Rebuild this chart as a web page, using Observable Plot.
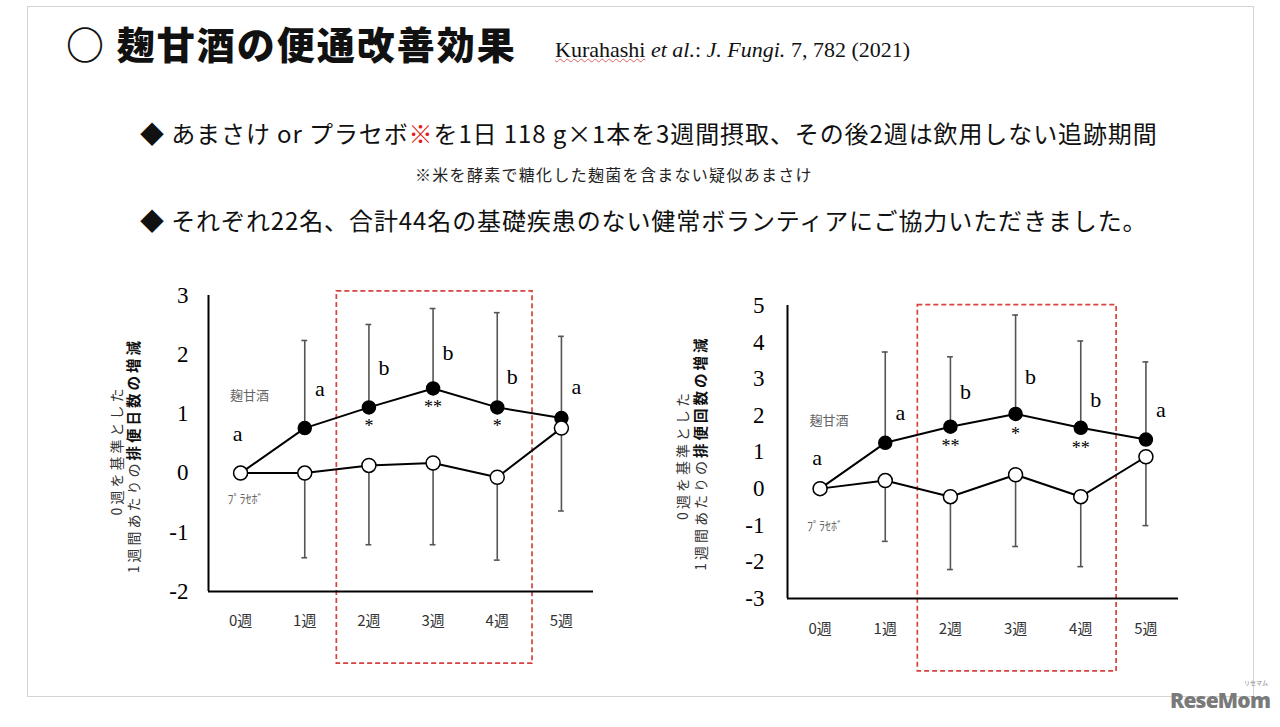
<!DOCTYPE html>
<html><head><meta charset="utf-8">
<script src="https://cdn.jsdelivr.net/npm/d3@7"></script>
<script src="https://cdn.jsdelivr.net/npm/@observablehq/plot@0.6"></script>
<style>
html,body{margin:0;padding:0;background:#fff;}
#page{position:relative;width:1280px;height:727px;overflow:hidden;font-family:"Noto Sans CJK JP","Noto Sans",sans-serif;color:#111;}
.frame{position:absolute;left:27px;top:6px;width:1227px;height:691px;border:1.5px solid #d4d4d4;box-sizing:border-box;}
.abs{position:absolute;white-space:nowrap;line-height:1;}
.chart{position:absolute;}
</style></head>
<body>
<div id="page">
  <div class="frame"></div>
  <div class="abs" id="title" style="left:66px;top:24px;font-size:38px;font-weight:900;letter-spacing:2px;">○ 麹甘酒の便通改善効果</div>
  <div class="abs" id="cite" style="left:555px;top:39px;font-family:'Liberation Serif',serif;font-size:22px;"><span style="text-decoration:underline wavy #e06060;text-decoration-thickness:1px;">Kurahashi</span> <i>et al.</i>: <i>J. Fungi.</i> 7, 782 (2021)</div>
  <div class="abs" id="b1" style="left:140px;top:121px;font-size:24px;letter-spacing:0.9px;">◆ あまさけ or プラセボ<span style="color:#e02020">※</span>を1日 118 g×1本を3週間摂取、その後2週は飲用しない追跡期間</div>
  <div class="abs" id="note" style="left:415px;top:166px;font-size:16px;letter-spacing:1.3px;color:#222;">※米を酵素で糖化した麹菌を含まない疑似あまさけ</div>
  <div class="abs" id="b2" style="left:140px;top:208px;font-size:24px;letter-spacing:0.9px;">◆ それぞれ22名、合計44名の基礎疾患のない健常ボランティアにご協力いただきました。</div>
  <div class="chart" id="left" style="left:100px;top:280px;"></div>
  <div class="chart" id="right" style="left:660px;top:280px;"></div>
  <div class="abs" style="left:1170px;top:690px;font-family:'Open Sans',sans-serif;font-weight:800;font-size:21px;color:#7a7a7a;letter-spacing:-0.8px;">ReseMom</div>
  <div class="abs" style="left:1244px;top:680px;font-size:6px;color:#888;">リセマム</div>
</div>
<script>
// ---- shared categories ----
const weeks = [0, 1, 2, 3, 4, 5];
const weekLabels = ["0週", "1週", "2週", "3週", "4週", "5週"];
const seriesNames = ["麹甘酒", "ﾌﾟﾗｾﾎﾞ"];
const highlightWeeks = [2, 4];

// ---- left chart: 排便日数 ----
const daysKoji = [0, 0.76, 1.11, 1.43, 1.11, 0.93];
const daysKojiUpper = [null, 2.24, 2.51, 2.78, 2.71, 2.31];
const daysPlacebo = [0, 0, 0.13, 0.17, -0.07, 0.76];
const daysPlaceboLower = [null, -1.43, -1.21, -1.21, -1.47, -0.64];
const daysLetters = ["a", "a", "b", "b", "b", "a"];
const daysLetterY = [0.66, 1.42, 1.77, 2.03, 1.62, 1.45];
const daysStars = ["", "", "*", "**", "*", ""];
const daysTicks = [-2, -1, 0, 1, 2, 3];
const daysLabelY = [1.30, -0.46];
const daysBoxY = [-3.22, 3.07];

// ---- right chart: 排便回数 ----
const timesKoji = [0, 1.25, 1.69, 2.04, 1.66, 1.34];
const timesKojiUpper = [null, 3.73, 3.60, 4.74, 4.03, 3.46];
const timesPlacebo = [0, 0.22, -0.22, 0.38, -0.22, 0.87];
const timesPlaceboLower = [null, -1.44, -2.21, -1.58, -2.13, -1.01];
const timesLetters = ["a", "a", "b", "b", "b", "a"];
const timesLetterY = [0.84, 2.06, 2.64, 3.04, 2.42, 2.15];
const timesStars = ["", "", "**", "*", "**", ""];
const timesTicks = [-3, -2, -1, 0, 1, 2, 3, 4, 5];
const timesLabelY = [1.85, -1.06];
const timesBoxY = [-4.99, 5.01];

const yLabelLine1 = "0週を基準とした";
const yLabelLine2a = "1週間あたりの";

function makeChart(o) {
  const rows = weeks.map((w, i) => ({
    week: w, koji: o.koji[i], kojiUp: o.kojiUp[i], placebo: o.placebo[i], placeboLow: o.placeboLow[i],
    letter: o.letters[i], letterY: o.letterY[i], star: o.stars[i]
  }));
  const withBars = rows.filter(d => d.kojiUp != null);
  const ymin = o.ticks[0], ymax = o.ticks[o.ticks.length - 1];
  const box = [{x1: highlightWeeks[0] - 0.5, x2: highlightWeeks[1] + 0.55, y1: o.boxY[0], y2: o.boxY[1]}];
  const serif = "'Liberation Serif', 'Times New Roman', serif";
  const sans = "'Noto Sans CJK JP', sans-serif";
  const capW = 0.045;
  const svg = Plot.plot({
    width: o.width, height: o.height,
    marginLeft: o.ml, marginRight: o.mr, marginTop: o.mt, marginBottom: o.mb,
    x: {domain: [-0.5, 5.5]},
    y: {domain: [ymin, ymax]},
    style: {background: "transparent", color: "#000", overflow: "visible", fontFamily: sans},
    marks: [
      Plot.rect(box, {x1: "x1", x2: "x2", y1: "y1", y2: "y2", fill: "none", stroke: "#d6423e", strokeWidth: 1.7, strokeDasharray: "5,3"}),
      Plot.axisY(o.ticks, {tickSize: 0, tickPadding: o.yPad, fontSize: 23, fontFamily: serif, tickFormat: d => String(d), label: null, fill: "#000"}),
      Plot.axisX(weeks, {tickSize: 0, tickPadding: o.xPad, fontSize: 15, fontFamily: sans, tickFormat: d => weekLabels[d], label: null, fill: "#333"}),
      Plot.ruleX([-0.5], {y1: ymin, y2: ymax, stroke: "#000", strokeWidth: 2}),
      Plot.ruleY([ymin], {x1: -0.5, x2: 5.5, stroke: "#000", strokeWidth: 2}),
      // error bars
      Plot.ruleX(withBars, {x: "week", y1: "koji", y2: "kojiUp", stroke: "#555", strokeWidth: 1.6}),
      Plot.ruleY(withBars, {y: "kojiUp", x1: d => d.week - capW, x2: d => d.week + capW, stroke: "#555", strokeWidth: 1.6}),
      Plot.ruleX(withBars, {x: "week", y1: "placebo", y2: "placeboLow", stroke: "#555", strokeWidth: 1.6}),
      Plot.ruleY(withBars, {y: "placeboLow", x1: d => d.week - capW, x2: d => d.week + capW, stroke: "#555", strokeWidth: 1.6}),
      // lines
      Plot.line(rows, {x: "week", y: "koji", stroke: "#000", strokeWidth: 2}),
      Plot.line(rows, {x: "week", y: "placebo", stroke: "#000", strokeWidth: 2}),
      Plot.dot(rows, {x: "week", y: "koji", r: 6.5, fill: "#000", stroke: "#000"}),
      Plot.dot(rows, {x: "week", y: "placebo", r: 7, fill: "#fff", stroke: "#000", strokeWidth: 1.5}),
      // significance letters
      Plot.text(rows.filter(d => d.week > 0), {x: "week", y: "letterY", text: "letter", dx: 15, fontSize: 22, fontFamily: serif, fill: "#000"}),
      Plot.text(rows.filter(d => d.week === 0), {x: "week", y: "letterY", text: "letter", dx: -3, fontSize: 22, fontFamily: serif, fill: "#000"}),
      Plot.text(rows.filter(d => d.star), {x: "week", y: "koji", text: "star", dy: o.starDy, fontSize: 18, fontFamily: serif, fill: "#000"}),
      // series labels
      Plot.text([{week: 0, y: o.labelY[0], t: seriesNames[0]}], {x: "week", y: "y", text: "t", dx: 9, fontSize: 13, fill: "#666"}),
      Plot.text([{week: 0, y: o.labelY[1], t: seriesNames[1]}], {x: "week", y: "y", text: "t", dx: 5, fontSize: 12, fill: "#666"}),
      // y-axis title (rotated, two lines)
      Plot.text([yLabelLine1], {frameAnchor: "left", text: d => d, rotate: -90, dx: o.l1dx, dy: o.l1dy, fontSize: 14, fill: "#333", textAnchor: "middle"}),
      Plot.text([yLabelLine2a], {frameAnchor: "left", text: d => d, rotate: -90, dx: o.l2dx, dy: o.l2dy, fontSize: 14, fill: "#333", textAnchor: "end"}),
      Plot.text([o.bold], {frameAnchor: "left", text: d => d, rotate: -90, dx: o.l2dx, dy: o.l2dy, fontSize: 14.5, fontWeight: "bold", fill: "#111", textAnchor: "start"})
    ]
  });
  // widen the rotated y-axis title glyph spacing (tall, narrow lettering as in the source)
  d3.select(svg).selectAll("text")
    .filter(function() { const t = this.textContent; return t === yLabelLine1 || t === yLabelLine2a || t === o.bold; })
    .style("letter-spacing", "3px");
  return svg;
}

document.getElementById("left").append(makeChart({
  koji: daysKoji, kojiUp: daysKojiUpper, placebo: daysPlacebo, placeboLow: daysPlaceboLower,
  letters: daysLetters, letterY: daysLetterY, stars: daysStars, ticks: daysTicks, labelY: daysLabelY, boxY: daysBoxY,
  bold: "排便日数の増減",
  width: 520, height: 400, ml: 108, mr: 27, mt: 15, mb: 89, yPad: 20, xPad: 24, starDy: 19,
  l1dx: -91, l1dy: 7, l2dx: -74, l2dy: 17
}));
document.getElementById("right").append(makeChart({
  koji: timesKoji, kojiUp: timesKojiUpper, placebo: timesPlacebo, placeboLow: timesPlaceboLower,
  letters: timesLetters, letterY: timesLetterY, stars: timesStars, ticks: timesTicks, labelY: timesLabelY, boxY: timesBoxY,
  bold: "排便回数の増減",
  width: 540, height: 400, ml: 127, mr: 22, mt: 25, mb: 82, yPad: 23, xPad: 25, starDy: 20,
  l1dx: -104, l1dy: 3, l2dx: -86, l2dy: 6
}));
</script>
</body></html>
